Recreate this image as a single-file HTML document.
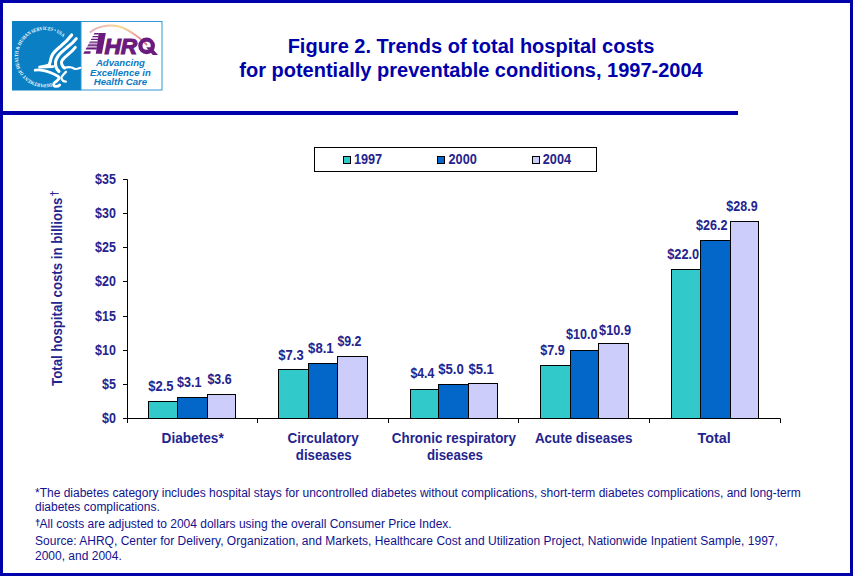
<!DOCTYPE html>
<html><head><meta charset="utf-8">
<style>
html,body{margin:0;padding:0;background:#fff;}
body{width:853px;height:576px;overflow:hidden;position:relative;font-family:"Liberation Sans",sans-serif;}
#frame{position:absolute;left:0;top:0;width:847px;height:570px;border:3px solid #0000aa;}
#rule{position:absolute;left:0;top:111px;width:738px;height:4px;background:#0000aa;}
#title{position:absolute;left:0;top:34px;width:942px;text-align:center;color:#0000aa;font-weight:bold;font-size:20px;line-height:24px;}
#foot{position:absolute;left:35px;top:486px;color:#12128e;font-size:12px;line-height:14px;white-space:nowrap;}
#foot div{position:absolute;left:0;}
svg{position:absolute;left:0;top:0;}
svg text{font-family:"Liberation Sans",sans-serif;}
</style></head><body>
<div id="frame"></div>
<div id="rule"></div>
<div id="title">Figure 2. Trends of total hospital costs<br>for potentially preventable conditions, 1997-2004</div>
<svg id="chart" width="853" height="576" viewBox="0 0 853 576">
<!-- LOGO -->
<g id="logo">
<rect x="12" y="21" width="69" height="69.5" fill="#0a7fc3"/>
<rect x="81" y="21.5" width="81" height="68.5" fill="#fff" stroke="#2f97d3" stroke-width="1"/>
<defs>
<path id="ring" d="M51.46 83.23 A27 27 0 1 1 51.50 83.22"/>
<linearGradient id="arcg" x1="0" y1="0" x2="1" y2="0">
<stop offset="0" stop-color="#e9a3b8"/><stop offset="0.35" stop-color="#f3c9a0"/><stop offset="0.55" stop-color="#f5dc8c"/><stop offset="0.8" stop-color="#eea7a0"/><stop offset="1" stop-color="#e0708c"/>
</linearGradient>
</defs>
<text style="font-family:'Liberation Serif',serif" font-weight="bold" font-size="5.1" fill="#fff" textLength="111" lengthAdjust="spacingAndGlyphs"><textPath href="#ring" startOffset="0" textLength="111" lengthAdjust="spacingAndGlyphs">DEPARTMENT OF HEALTH &amp; HUMAN SERVICES • USA</textPath></text>
<g fill="none" stroke="#fff" stroke-linecap="round" stroke-linejoin="round">
<path stroke-width="3.1" d="M71.7 35 C67 41 64 43.5 61.2 45.8 C57 49.5 54.5 51.5 52.9 54 C50.5 57.5 50.8 59.5 50.3 61.3 C50 63.5 49.5 64.5 48.5 65.2"/>
<path stroke-width="2.6" d="M49.5 65 C46 65.8 43 66 39.5 67.1 L53 66.6"/>
<path stroke-width="3.1" d="M76.3 38.6 C72 44 69 46 66.5 47.9 C62.5 51.2 60 53.5 58.1 56 C56 59 55.7 60.5 55.5 62.3 C55.2 65 55.8 67 56.6 68.5 C57.3 69.8 58.3 70.6 59 71.5"/>
<path stroke-width="3.0" d="M75.3 47.4 C73 50.3 70.8 52.3 68.5 54.2 C66 56.3 63.8 58.2 62.3 60.2 C61 62 61.2 63.2 61.8 64.4 C62.4 66 63.3 67.2 64.6 68"/>
<path stroke-width="2.2" d="M64 68 C67 67 69.5 66.8 71.7 67.5 C73.5 68.2 74.5 69 75.8 69 C77.5 69 79 68.3 80.3 67.8"/>
<path stroke-width="2.8" d="M35.2 70.2 C38 69.8 40.5 69.9 42.5 70.3 C45.5 70.9 48.3 71.7 50.8 72.7 C53.3 73.7 55.5 74.7 57.1 75.8 C59 77 59.6 77.6 59 78.6 C58.2 79.8 57 80.8 56 81.6 C54.5 82.8 53.5 83.3 53.6 84.3 C53.8 85.8 54.3 86.3 55.3 86.4 C57 86.5 58.8 86 59.7 85"/>
<path stroke-width="2.3" d="M66 71.8 C65 73 64 74 63.3 74.8 C62.2 76 61.3 77 61.4 77.9 C61.5 79.2 62.3 80.3 63.3 81 C64 81.5 65 81.6 65.9 81.6"/>
</g>
<path d="M89.8 32.6 C97 26.5 108 24.2 118 26.2 C127 28.2 135 34.5 140.7 39.1 C143.5 41.5 145.5 43.5 147 45.2" fill="none" stroke="url(#arcg)" stroke-width="1.9"/>
<g fill="#6a1b7d">
<polygon points="98.7,33 105.8,33 101.9,53.8 95.8,53.8"/>
<polygon points="94.5,33 98.9,33 98.7,34.6 93.6,34.6"/>
<polygon points="92.9,35.9 98.5,35.9 98.3,37.2 92.2,37.2"/>
<polygon points="91.4,38.8 98.1,38.8 97.9,39.9 90.8,39.9"/>
<polygon points="89.9,41.4 97.7,41.4 97.5,42.8 89.2,42.8"/>
<polygon points="88.3,44.4 97.3,44.4 97.1,45.7 87.6,45.7"/>
<polygon points="86.6,47.5 96.9,47.5 96.6,49.4 85.6,49.4"/>
<polygon points="84.6,51.2 90.7,51.2 90.3,53.8 83.2,53.8"/>
<polygon points="89.2,42.8 97.5,42.8 96.9,47.5 86.6,47.5" opacity="0.35"/>
<text x="104.4" y="53.8" font-family="Liberation Sans" font-weight="bold" font-style="italic" font-size="22" textLength="32.8" lengthAdjust="spacingAndGlyphs" stroke="#6a1b7d" stroke-width="1.1">HR</text>
<ellipse cx="146.6" cy="45.8" rx="6.25" ry="6.2" fill="none" stroke="#6a1b7d" stroke-width="4.3"/>
<polygon points="146.2,47.3 151.2,47.3 158,54.9 152.8,54.9"/>
</g>
<g font-family="Liberation Sans" font-weight="bold" font-style="italic" font-size="9.6" fill="#0b7bc4" text-anchor="middle">
<text x="120.4" y="66">Advancing</text>
<text x="120.4" y="75.7">Excellence in</text>
<text x="120.4" y="85.4">Health Care</text>
</g>
</g>
<!-- /LOGO -->
<!-- CHART -->
<rect x="148.5" y="401.5" width="29.0" height="17.0" fill="#31c9c9" stroke="#000" stroke-width="1"/>
<rect x="177.5" y="397.5" width="30.0" height="21.0" fill="#0367ca" stroke="#000" stroke-width="1"/>
<rect x="207.5" y="394.5" width="28.0" height="24.0" fill="#cdcdfb" stroke="#000" stroke-width="1"/>
<text x="148.2" y="390.6" font-size="13.8" font-weight="bold" fill="#24248e" textLength="25.3" lengthAdjust="spacingAndGlyphs">$2.5</text>
<text x="177.1" y="386.7" font-size="13.8" font-weight="bold" fill="#24248e" textLength="24.5" lengthAdjust="spacingAndGlyphs">$3.1</text>
<text x="207.4" y="383.5" font-size="13.8" font-weight="bold" fill="#24248e" textLength="24.2" lengthAdjust="spacingAndGlyphs">$3.6</text>
<rect x="278.5" y="369.5" width="30.0" height="49.0" fill="#31c9c9" stroke="#000" stroke-width="1"/>
<rect x="308.5" y="363.5" width="29.0" height="55.0" fill="#0367ca" stroke="#000" stroke-width="1"/>
<rect x="337.5" y="356.5" width="30.0" height="62.0" fill="#cdcdfb" stroke="#000" stroke-width="1"/>
<text x="278.3" y="359.5" font-size="13.8" font-weight="bold" fill="#24248e" textLength="25.4" lengthAdjust="spacingAndGlyphs">$7.3</text>
<text x="308.1" y="352.7" font-size="13.8" font-weight="bold" fill="#24248e" textLength="25.6" lengthAdjust="spacingAndGlyphs">$8.1</text>
<text x="337.4" y="345.6" font-size="13.8" font-weight="bold" fill="#24248e" textLength="24.0" lengthAdjust="spacingAndGlyphs">$9.2</text>
<rect x="410.5" y="389.5" width="28.0" height="29.0" fill="#31c9c9" stroke="#000" stroke-width="1"/>
<rect x="438.5" y="384.5" width="30.0" height="34.0" fill="#0367ca" stroke="#000" stroke-width="1"/>
<rect x="468.5" y="383.5" width="29.0" height="35.0" fill="#cdcdfb" stroke="#000" stroke-width="1"/>
<text x="410.4" y="378.4" font-size="13.8" font-weight="bold" fill="#24248e" textLength="23.9" lengthAdjust="spacingAndGlyphs">$4.4</text>
<text x="438.2" y="374.3" font-size="13.8" font-weight="bold" fill="#24248e" textLength="25.6" lengthAdjust="spacingAndGlyphs">$5.0</text>
<text x="468.4" y="373.7" font-size="13.8" font-weight="bold" fill="#24248e" textLength="25.5" lengthAdjust="spacingAndGlyphs">$5.1</text>
<rect x="540.5" y="365.5" width="30.0" height="53.0" fill="#31c9c9" stroke="#000" stroke-width="1"/>
<rect x="570.5" y="350.5" width="28.0" height="68.0" fill="#0367ca" stroke="#000" stroke-width="1"/>
<rect x="598.5" y="343.5" width="30.0" height="75.0" fill="#cdcdfb" stroke="#000" stroke-width="1"/>
<text x="540.3" y="354.7" font-size="13.8" font-weight="bold" fill="#24248e" textLength="24.5" lengthAdjust="spacingAndGlyphs">$7.9</text>
<text x="566.1" y="339.4" font-size="13.8" font-weight="bold" fill="#24248e" textLength="31.5" lengthAdjust="spacingAndGlyphs">$10.0</text>
<text x="599.1" y="334.7" font-size="13.8" font-weight="bold" fill="#24248e" textLength="31.9" lengthAdjust="spacingAndGlyphs">$10.9</text>
<rect x="671.5" y="269.5" width="29.0" height="149.0" fill="#31c9c9" stroke="#000" stroke-width="1"/>
<rect x="700.5" y="240.5" width="30.0" height="178.0" fill="#0367ca" stroke="#000" stroke-width="1"/>
<rect x="730.5" y="221.5" width="28.0" height="197.0" fill="#cdcdfb" stroke="#000" stroke-width="1"/>
<text x="667.2" y="258.8" font-size="13.8" font-weight="bold" fill="#24248e" textLength="32.0" lengthAdjust="spacingAndGlyphs">$22.0</text>
<text x="696.1" y="229.7" font-size="13.8" font-weight="bold" fill="#24248e" textLength="31.5" lengthAdjust="spacingAndGlyphs">$26.2</text>
<text x="726.3" y="211.4" font-size="13.8" font-weight="bold" fill="#24248e" textLength="31.3" lengthAdjust="spacingAndGlyphs">$28.9</text>
<text x="161.6" y="443.3" font-size="13.8" font-weight="bold" fill="#24248e" textLength="62.1" lengthAdjust="spacingAndGlyphs">Diabetes*</text>
<text x="287.6" y="443.3" font-size="13.8" font-weight="bold" fill="#24248e" textLength="71.1" lengthAdjust="spacingAndGlyphs">Circulatory</text>
<text x="295.8" y="459.6" font-size="13.8" font-weight="bold" fill="#24248e" textLength="55.9" lengthAdjust="spacingAndGlyphs">diseases</text>
<text x="391.8" y="443.4" font-size="13.8" font-weight="bold" fill="#24248e" textLength="124.2" lengthAdjust="spacingAndGlyphs">Chronic respiratory</text>
<text x="426.9" y="459.6" font-size="13.8" font-weight="bold" fill="#24248e" textLength="56.1" lengthAdjust="spacingAndGlyphs">diseases</text>
<text x="534.9" y="443.3" font-size="13.8" font-weight="bold" fill="#24248e" textLength="97.6" lengthAdjust="spacingAndGlyphs">Acute diseases</text>
<text x="697.6" y="443.3" font-size="13.8" font-weight="bold" fill="#24248e" textLength="33.1" lengthAdjust="spacingAndGlyphs">Total</text>
<path d="M127.5 179.5 V418.5 H780.5" fill="none" stroke="#000" stroke-width="1"/>
<path d="M123 418.5 H127.5" stroke="#000" stroke-width="1"/>
<text x="102.0" y="422.5" font-size="13.8" font-weight="bold" fill="#24248e" textLength="13.9" lengthAdjust="spacingAndGlyphs">$0</text>
<path d="M123 384.5 H127.5" stroke="#000" stroke-width="1"/>
<text x="102.0" y="388.5" font-size="13.8" font-weight="bold" fill="#24248e" textLength="13.9" lengthAdjust="spacingAndGlyphs">$5</text>
<path d="M123 350.5 H127.5" stroke="#000" stroke-width="1"/>
<text x="95.1" y="354.5" font-size="13.8" font-weight="bold" fill="#24248e" textLength="20.8" lengthAdjust="spacingAndGlyphs">$10</text>
<path d="M123 316.5 H127.5" stroke="#000" stroke-width="1"/>
<text x="95.1" y="320.5" font-size="13.8" font-weight="bold" fill="#24248e" textLength="20.8" lengthAdjust="spacingAndGlyphs">$15</text>
<path d="M123 281.5 H127.5" stroke="#000" stroke-width="1"/>
<text x="95.1" y="285.5" font-size="13.8" font-weight="bold" fill="#24248e" textLength="20.8" lengthAdjust="spacingAndGlyphs">$20</text>
<path d="M123 247.5 H127.5" stroke="#000" stroke-width="1"/>
<text x="95.1" y="251.5" font-size="13.8" font-weight="bold" fill="#24248e" textLength="20.8" lengthAdjust="spacingAndGlyphs">$25</text>
<path d="M123 213.5 H127.5" stroke="#000" stroke-width="1"/>
<text x="95.1" y="217.5" font-size="13.8" font-weight="bold" fill="#24248e" textLength="20.8" lengthAdjust="spacingAndGlyphs">$30</text>
<path d="M123 179.5 H127.5" stroke="#000" stroke-width="1"/>
<text x="95.1" y="183.5" font-size="13.8" font-weight="bold" fill="#24248e" textLength="20.8" lengthAdjust="spacingAndGlyphs">$35</text>
<path d="M127.5 418.5 V423" stroke="#000" stroke-width="1"/>
<path d="M257.5 418.5 V423" stroke="#000" stroke-width="1"/>
<path d="M388.5 418.5 V423" stroke="#000" stroke-width="1"/>
<path d="M518.5 418.5 V423" stroke="#000" stroke-width="1"/>
<path d="M649.5 418.5 V423" stroke="#000" stroke-width="1"/>
<path d="M780.5 418.5 V423" stroke="#000" stroke-width="1"/>
<text transform="translate(62.4,385.9) rotate(-90)" font-size="13.8" font-weight="bold" fill="#24248e" textLength="188.3" lengthAdjust="spacingAndGlyphs">Total hospital costs in billions</text>
<text transform="translate(57.6,196.6) rotate(-90)" font-size="10.5" font-weight="bold" fill="#24248e">†</text>
<rect x="314.5" y="147.5" width="282" height="24" fill="#fff" stroke="#000" stroke-width="1"/>
<rect x="343.5" y="156.5" width="7" height="7" fill="#31c9c9" stroke="#000" stroke-width="1"/>
<text x="353.9" y="163.6" font-size="13.8" font-weight="bold" fill="#24248e" textLength="28.3" lengthAdjust="spacingAndGlyphs">1997</text>
<rect x="437.5" y="156.5" width="7" height="7" fill="#0367ca" stroke="#000" stroke-width="1"/>
<text x="448.5" y="163.6" font-size="13.8" font-weight="bold" fill="#24248e" textLength="28.3" lengthAdjust="spacingAndGlyphs">2000</text>
<rect x="532.5" y="156.5" width="7" height="7" fill="#cdcdfb" stroke="#000" stroke-width="1"/>
<text x="542.8" y="163.6" font-size="13.8" font-weight="bold" fill="#24248e" textLength="28.3" lengthAdjust="spacingAndGlyphs">2004</text>
<!-- /CHART -->
</svg>
<div id="foot">
<div style="top:0">*The diabetes category includes hospital stays for uncontrolled diabetes without complications, short-term diabetes complications, and long-term</div>
<div style="top:14px">diabetes complications.</div>
<div style="top:31px"><span style="font-size:9.5px;font-weight:bold;position:relative;top:-2px;letter-spacing:-0.8px">†</span>All costs are adjusted to 2004 dollars using the overall Consumer Price Index.</div>
<div style="top:48px;letter-spacing:0.02px">Source: AHRQ, Center for Delivery, Organization, and Markets, Healthcare Cost and Utilization Project, Nationwide Inpatient Sample, 1997,</div>
<div style="top:63px">2000, and 2004.</div>
</div>
</body></html>
